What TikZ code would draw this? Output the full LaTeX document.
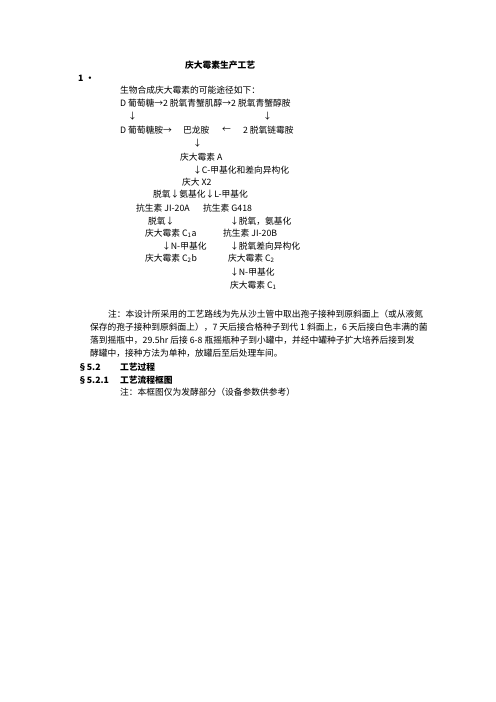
\documentclass[tikz,border=0pt]{standalone}
\usepackage{fontspec}
\setmainfont{Noto Sans CJK SC}
\usepackage{tikz}
\usepackage{color}

\tikzset{%
  txt/.style={anchor=west, inner sep=0pt, font=\fontsize{10.5pt}{12pt}\selectfont},
  hd/.style={txt, font=\fontsize{10.5pt}{12pt}\selectfont\bfseries},
}

\begin{document}
\begin{tikzpicture}[%
      x=1.2pt, y=-1.2pt,
      ]
      \useasboundingbox (0,0) rectangle (496,702);
      \fill [white] (0,0) rectangle (496,702);

      % heading
      \node [hd, anchor=center] (title) at (220,65) {庆大霉素生产工艺};
      \node [hd] (sec1) at (78,78) {1 •};

      % biosynthesis route
      \node [txt] (intro) at (120,90) {生物合成庆大霉素的可能途径如下：};
      \node [txt] (row1) at (120,103) {D 葡萄糖→2 脱氧青蟹肌醇→2 脱氧青蟹醇胺};
      \node [txt] (dnA) at (128,116) {↓};
      \node [txt] (dnB) at (263,116) {↓};
      \node [txt] (glcN) at (120,130) {D 葡萄糖胺→};
      \node [txt] (paro) at (183,130) {巴龙胺};
      \node [txt] (left) at (222,130) {←};
      \node [txt] (dos) at (243,130) {2 脱氧链霉胺};
      \node [txt] (dnC) at (193,143) {↓};
      \node [txt] (gmA) at (180,157) {庆大霉素 A};
      \node [txt] (stepC) at (193,170) {↓C-甲基化和差向异构化};
      \node [txt] (gmX) at (182,182) {庆大 X2};
      \node [txt] (split) at (153,194) {脱氧↓氨基化↓L-甲基化};
      \node [txt] (ji20a) at (136,208) {抗生素 JI-20A};
      \node [txt] (g418) at (203,208) {抗生素 G418};
      \node [txt] (deoxA) at (148,221) {脱氧↓};
      \node [txt] (deoxB) at (230,221) {↓脱氧，氨基化};
      \node [txt] (cOneA) at (145,233) {庆大霉素 C\textsubscript{1}a};
      \node [txt] (ji20b) at (223,233) {抗生素 JI-20B};
      \node [txt] (nmeA) at (162,246) {↓N-甲基化};
      \node [txt] (epiB) at (230,246) {↓脱氧差向异构化};
      \node [txt] (cTwoB) at (145,258) {庆大霉素 C\textsubscript{2}b};
      \node [txt] (cTwo) at (228,258) {庆大霉素 C\textsubscript{2}};
      \node [txt] (nmeB) at (230,272) {↓N-甲基化};
      \node [txt] (cOne) at (230,285) {庆大霉素 C\textsubscript{1}};

      % note
      \node [txt] (noteA) at (108,314) {注：本设计所采用的工艺路线为先从沙土管中取出孢子接种到原斜面上（或从液氮};
      \node [txt] (noteB) at (90,327) {保存的孢子接种到原斜面上），7 天后接合格种子到代 1 斜面上，6 天后接白色丰满的菌};
      \node [txt] (noteC) at (90,340) {落到摇瓶中，29.5hr 后接 6-8 瓶摇瓶种子到小罐中，并经中罐种子扩大培养后接到发};
      \node [txt] (noteD) at (90,353) {酵罐中，接种方法为单种，放罐后至后处理车间。};

      % sections
      \node [hd] (secA) at (78,367) {§5.2};
      \node [hd] (secAt) at (120,367) {工艺过程};
      \node [hd] (secB) at (78,380) {§5.2.1};
      \node [hd] (secBt) at (120,380) {工艺流程框图};
      \node [txt] (noteE) at (120,392) {注：本框图仅为发酵部分（设备参数供参考）};
\end{tikzpicture}
\end{document}
